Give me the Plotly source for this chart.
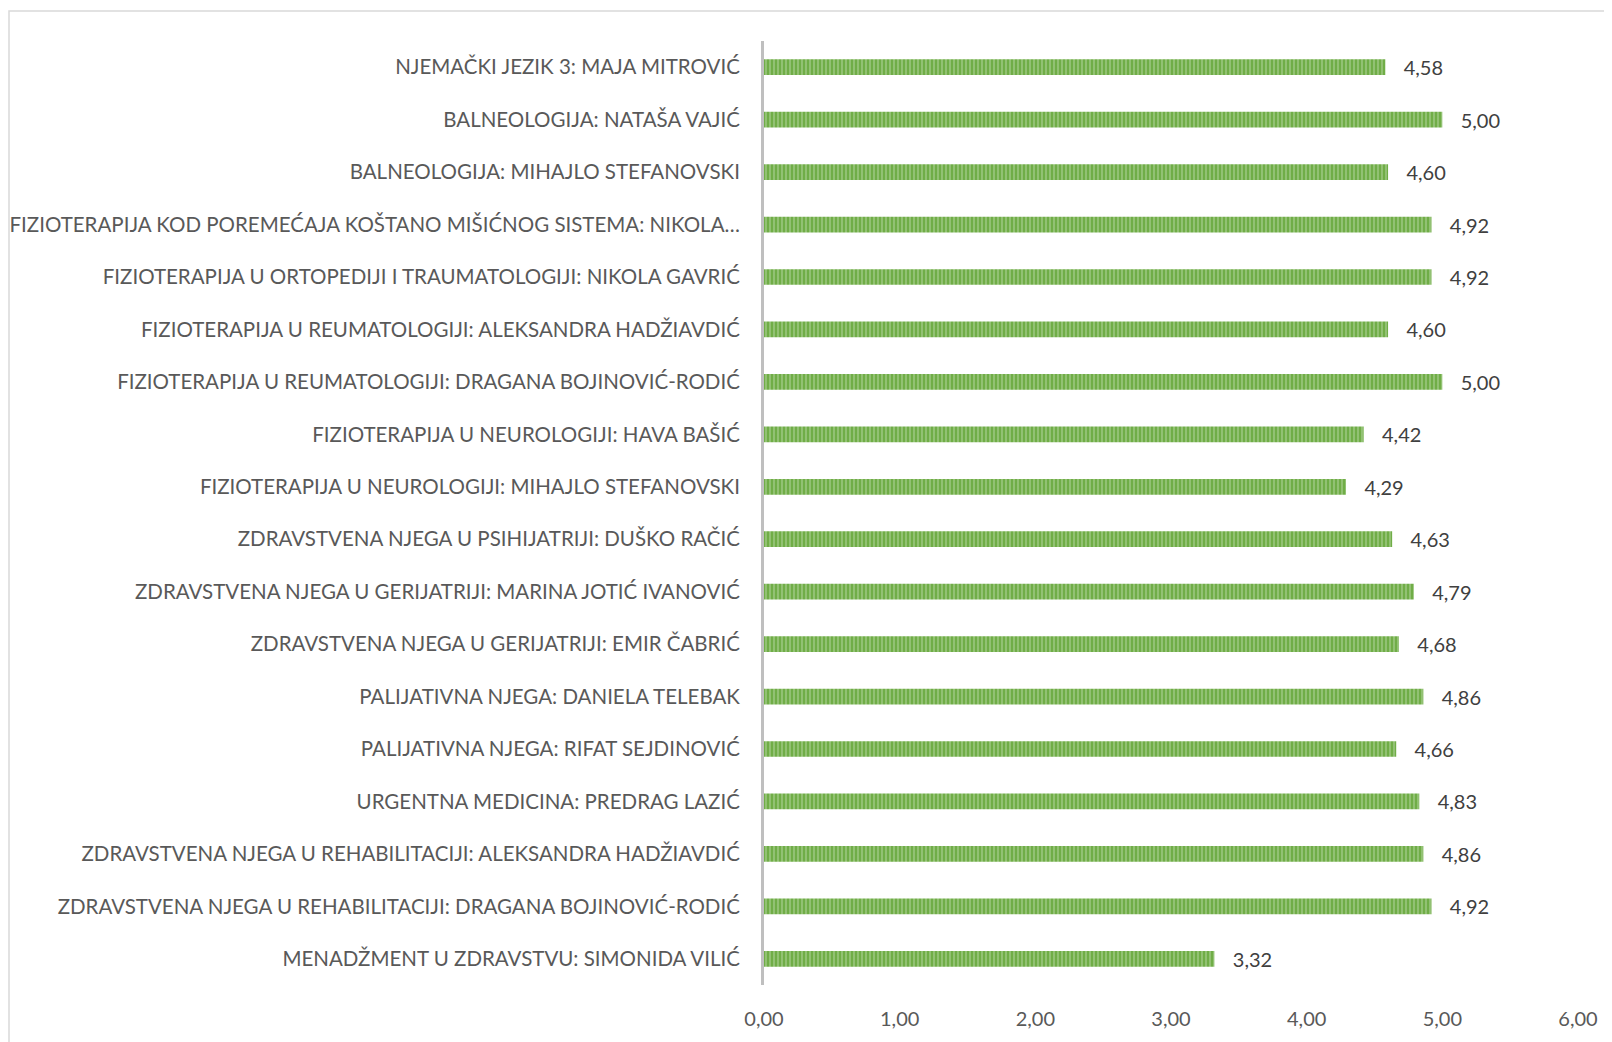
import plotly.graph_objects as go

categories = [
    "NJEMAČKI JEZIK 3: MAJA MITROVIĆ",
    "BALNEOLOGIJA: NATAŠA VAJIĆ",
    "BALNEOLOGIJA: MIHAJLO STEFANOVSKI",
    "FIZIOTERAPIJA KOD POREMEĆAJA KOŠTANO MIŠIĆNOG SISTEMA: NIKOLA…",
    "FIZIOTERAPIJA U ORTOPEDIJI I TRAUMATOLOGIJI: NIKOLA GAVRIĆ",
    "FIZIOTERAPIJA U REUMATOLOGIJI: ALEKSANDRA HADŽIAVDIĆ",
    "FIZIOTERAPIJA U REUMATOLOGIJI: DRAGANA BOJINOVIĆ-RODIĆ",
    "FIZIOTERAPIJA U NEUROLOGIJI: HAVA BAŠIĆ",
    "FIZIOTERAPIJA U NEUROLOGIJI: MIHAJLO STEFANOVSKI",
    "ZDRAVSTVENA NJEGA U PSIHIJATRIJI: DUŠKO RAČIĆ",
    "ZDRAVSTVENA NJEGA U GERIJATRIJI: MARINA JOTIĆ IVANOVIĆ",
    "ZDRAVSTVENA NJEGA U GERIJATRIJI: EMIR ČABRIĆ",
    "PALIJATIVNA NJEGA: DANIELA TELEBAK",
    "PALIJATIVNA NJEGA: RIFAT SEJDINOVIĆ",
    "URGENTNA MEDICINA: PREDRAG LAZIĆ",
    "ZDRAVSTVENA NJEGA U REHABILITACIJI: ALEKSANDRA HADŽIAVDIĆ",
    "ZDRAVSTVENA NJEGA U REHABILITACIJI: DRAGANA BOJINOVIĆ-RODIĆ",
    "MENADŽMENT U ZDRAVSTVU: SIMONIDA VILIĆ",
]
values = [4.58, 5.00, 4.60, 4.92, 4.92, 4.60, 5.00, 4.42, 4.29, 4.63,
          4.79, 4.68, 4.86, 4.66, 4.83, 4.86, 4.92, 3.32]
tick_values = [0, 1, 2, 3, 4, 5, 6]

FONT = "Lato"
W, H = 1604, 1034
L, R, T, B = 756, 34, 33, 57
PW, PH = W - L - R, H - T - B

fig = go.Figure(go.Bar(
    x=values,
    y=categories,
    orientation="h",
    width=0.3,
    marker=dict(
        color="#70AD47",
        line=dict(width=0),
        pattern=dict(shape="|", fgcolor="#C5E0B4", bgcolor="#70AD47",
                     size=4, solidity=0.4, fillmode="overlay"),
    ),
    texttemplate="\u00a0\u00a0\u00a0%{x:.2f}",
    textposition="outside",
    constraintext="none",
    cliponaxis=False,
    textfont=dict(family=FONT, size=20, color="#404040"),
    hoverinfo="skip",
))

fig.update_layout(
    width=W, height=H,
    paper_bgcolor="white", plot_bgcolor="white",
    separators=", ",
    margin=dict(l=L, r=R, t=T, b=B),
    showlegend=False,
    font=dict(family=FONT, color="#595959"),
    xaxis=dict(
        range=[0, 6], tickvals=tick_values, tickformat=".2f",
        showgrid=False, zeroline=False, showline=False, automargin=False,
        tickfont=dict(family=FONT, size=20, color="#595959"),
        ticks="", ticklabelstandoff=20,
    ),
    yaxis=dict(
        autorange="reversed", showgrid=False, zeroline=False, automargin=False,
        showline=True, linecolor="#BFBFBF", linewidth=3,
        ticks="", ticklabelstandoff=17,
        tickfont=dict(family=FONT, size=20.5, color="#595959"),
    ),
    shapes=[dict(type="rect", xref="paper", yref="paper",
                 x0=(1 - L) / PW, x1=1.2, y0=-0.2, y1=(H - B - 3) / PH,
                 line=dict(color="#D9D9D9", width=1.5), layer="below")],
)

fig.write_html("out.html")
